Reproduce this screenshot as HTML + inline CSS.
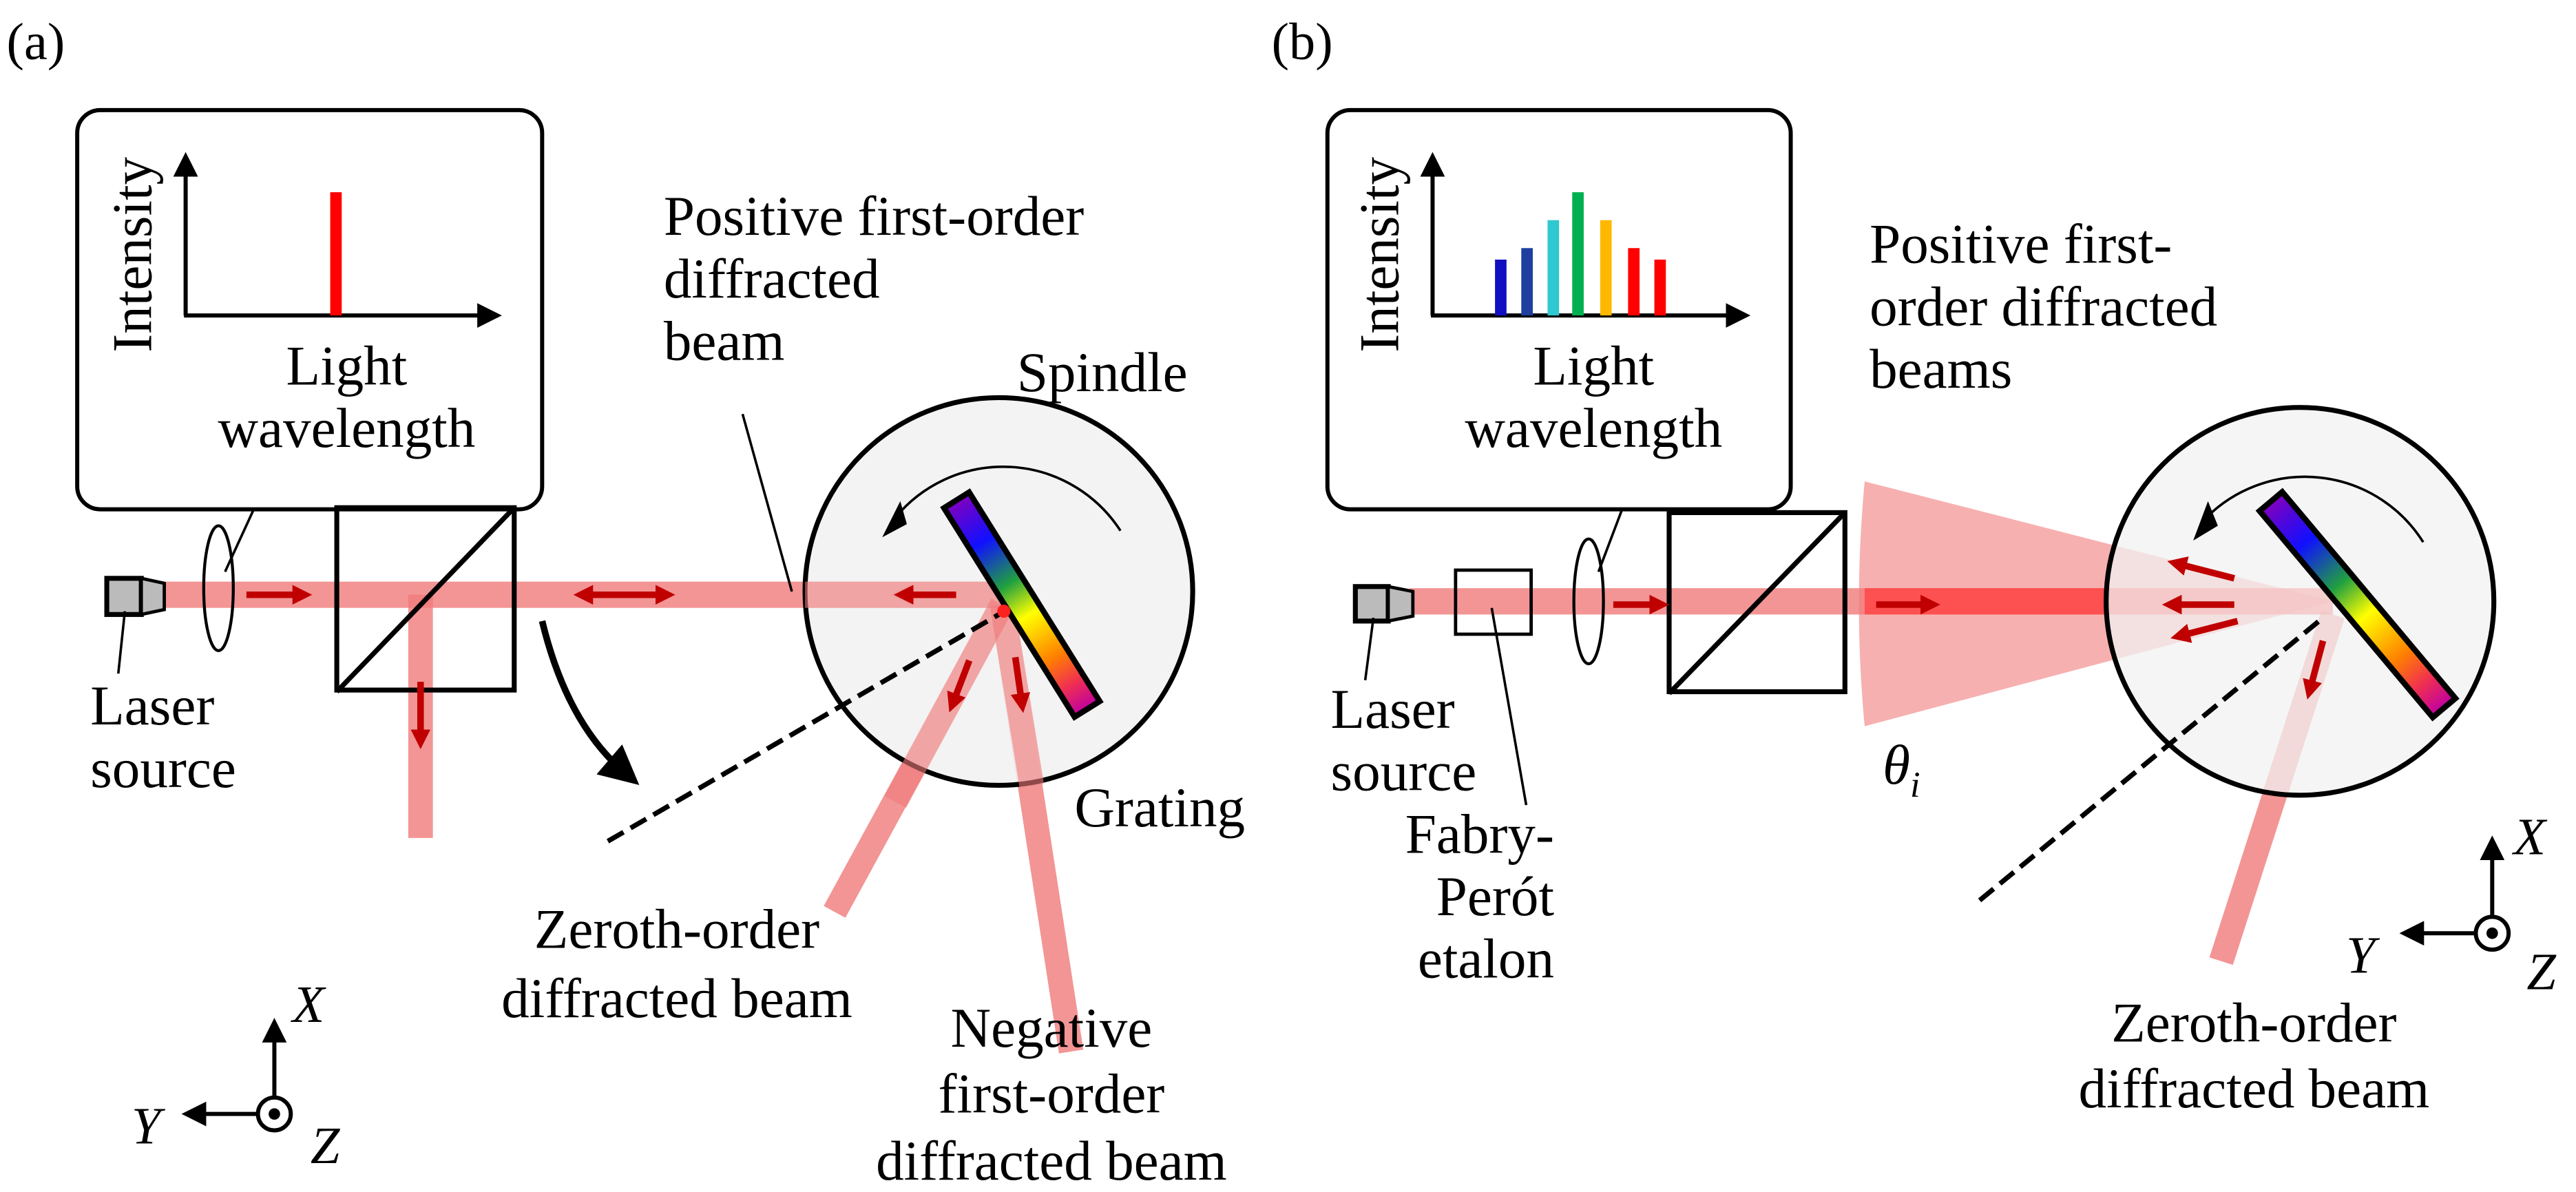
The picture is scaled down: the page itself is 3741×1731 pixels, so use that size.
<!DOCTYPE html>
<html><head><meta charset="utf-8"><style>
html,body{margin:0;padding:0;background:#fff;}
svg{display:block;}
</style></head><body>
<svg width="3741" height="1731" viewBox="0 0 1568 725.5" preserveAspectRatio="none" xmlns="http://www.w3.org/2000/svg" style="font-family:'Liberation Serif','Times New Roman',Times,'DejaVu Serif',serif">
<defs>
<linearGradient id="rb" x1="0" y1="0" x2="1" y2="0">
<stop offset="0" stop-color="#8000c0"/><stop offset="0.2" stop-color="#1010ff"/><stop offset="0.4" stop-color="#20a040"/><stop offset="0.55" stop-color="#ffff00"/><stop offset="0.75" stop-color="#ff8000"/><stop offset="0.88" stop-color="#f03050"/><stop offset="1" stop-color="#c000a0"/>
</linearGradient>
<marker id="ah" markerWidth="6" markerHeight="6" refX="3" refY="3" orient="auto" markerUnits="strokeWidth"><path d="M0,0 L6,3 L0,6 z" fill="#000"/></marker>
<marker id="rh" markerWidth="3" markerHeight="3" refX="1.5" refY="1.5" orient="auto" markerUnits="strokeWidth"><path d="M0,0 L3,1.5 L0,3 z" fill="#c00000"/></marker>
<marker id="rt" markerWidth="3" markerHeight="3" refX="1.5" refY="1.5" orient="auto-start-reverse" markerUnits="strokeWidth"><path d="M0,0 L3,1.5 L0,3 z" fill="#c00000"/></marker>
</defs>

<rect x="47" y="67" width="283" height="243" rx="14" fill="#fff" stroke="#000" stroke-width="2.5"/>
<line x1="113" y1="192" x2="113" y2="100" stroke="#000" stroke-width="2.5" marker-end="url(#ah)"/>
<line x1="112" y1="192" x2="298" y2="192" stroke="#000" stroke-width="2.5" marker-end="url(#ah)"/>
<rect x="201" y="117" width="7" height="75" fill="#ff0000"/>
<line x1="154" y1="311" x2="137" y2="348" stroke="#000" stroke-width="1.5"/>

<g stroke="#f07a7a" stroke-opacity="0.8" fill="none">
<line x1="100" y1="362" x2="610" y2="362" stroke-width="16"/>
<line x1="256" y1="362" x2="256" y2="510" stroke-width="15"/>
<line x1="610" y1="368" x2="508" y2="555" stroke-width="15"/>
<line x1="610" y1="368" x2="652" y2="640" stroke-width="15"/>
</g>
<rect x="65" y="352" width="21" height="22" fill="#bbb" stroke="#000" stroke-width="3"/>
<path d="M86,352 L100,355 L100,371 L86,374 z" fill="#bbb" stroke="#000" stroke-width="2"/>
<line x1="76" y1="372" x2="72" y2="410" stroke="#000" stroke-width="1.5"/>
<ellipse cx="133" cy="358" rx="9" ry="38" fill="none" stroke="#000" stroke-width="1.8"/>
<rect x="205" y="309" width="108" height="111" fill="none" stroke="#000" stroke-width="3"/>
<line x1="205" y1="421" x2="313" y2="309" stroke="#000" stroke-width="3"/>
<g stroke="#c00000" stroke-width="4" fill="none">
<line x1="150" y1="362" x2="184" y2="362" marker-end="url(#rh)"/>
<line x1="256" y1="415" x2="256" y2="450" marker-end="url(#rh)"/>
<line x1="355" y1="362" x2="405" y2="362" marker-start="url(#rt)" marker-end="url(#rh)"/>
<line x1="580" y1="362" x2="548" y2="362" marker-end="url(#rh)"/>
</g>
<path d="M330,378 Q345,440 380,470" stroke="#000" stroke-width="4" fill="none" marker-end="url(#ah)"/>
<circle cx="608" cy="360" r="118" fill="#f1f1f1" fill-opacity="0.85" stroke="#000" stroke-width="3"/>
<g stroke="#f07a7a" stroke-opacity="0.6" fill="none">
<line x1="490" y1="362" x2="610" y2="362" stroke-width="16"/>
<line x1="610" y1="368" x2="545" y2="488" stroke-width="15"/>
<line x1="610" y1="368" x2="628" y2="478" stroke-width="15"/>
</g>
<line x1="370" y1="512" x2="608" y2="374" stroke="#000" stroke-width="3" stroke-dasharray="11,5"/>
<path d="M682,323 A85,85 0 0 0 545,315" stroke="#000" stroke-width="1.5" fill="none"/>
<path d="M537,327 L548,305 L552,319 z" fill="#000"/>
<g stroke="#c00000" stroke-width="4" fill="none">
<line x1="590" y1="402" x2="580" y2="428" marker-end="url(#rh)"/>
<line x1="618" y1="400" x2="622" y2="428" marker-end="url(#rh)"/>
<line x1="582" y1="362" x2="550" y2="362" marker-end="url(#rh)"/>
</g>
<g transform="translate(622,368) rotate(58)">
<rect x="-75" y="-9" width="150" height="18" fill="url(#rb)" stroke="#000" stroke-width="3.5"/>
</g>
<circle cx="611" cy="372" r="4" fill="#ff2020"/>
<line x1="452" y1="252" x2="482" y2="360" stroke="#000" stroke-width="1.5"/>
<line x1="167" y1="668" x2="167" y2="627" stroke="#000" stroke-width="2.5" marker-end="url(#ah)"/>
<line x1="157" y1="678" x2="118" y2="678" stroke="#000" stroke-width="2.5" marker-end="url(#ah)"/>
<circle cx="167" cy="678" r="10" fill="#fff" stroke="#000" stroke-width="2.5"/>
<circle cx="167" cy="678" r="3.5" fill="#000"/>

<rect x="808" y="67" width="282" height="243" rx="14" fill="#fff" stroke="#000" stroke-width="2.5"/>
<line x1="872" y1="192" x2="872" y2="100" stroke="#000" stroke-width="2.5" marker-end="url(#ah)"/>
<line x1="871" y1="192" x2="1058" y2="192" stroke="#000" stroke-width="2.5" marker-end="url(#ah)"/>
<rect x="910" y="158" width="7" height="34" fill="#1010c0"/>
<rect x="926" y="151" width="7" height="41" fill="#1f3fa0"/>
<rect x="942" y="134" width="7" height="58" fill="#30c8d0"/>
<rect x="957" y="117" width="7" height="75" fill="#00b050"/>
<rect x="974" y="134" width="7" height="58" fill="#ffb800"/>
<rect x="991" y="151" width="7" height="41" fill="#ff0000"/>
<rect x="1007" y="158" width="7" height="34" fill="#ff0000"/>
<line x1="987" y1="311" x2="973" y2="348" stroke="#000" stroke-width="1.5"/>

<path d="M1420,366 L1135,293 Q1128,368 1135,442 z" fill="#f07070" fill-opacity="0.55"/>
<g stroke="#f07a7a" stroke-opacity="0.8" fill="none">
<line x1="858" y1="366" x2="1135" y2="366" stroke-width="16"/>
<line x1="1420" y1="374" x2="1352" y2="585" stroke-width="15"/>
</g>
<line x1="1135" y1="366" x2="1420" y2="366" stroke="#ff3030" stroke-opacity="0.75" stroke-width="16"/>
<rect x="825" y="357" width="20" height="21" fill="#bbb" stroke="#000" stroke-width="3"/>
<path d="M845,357 L860,360 L860,375 L845,378 z" fill="#bbb" stroke="#000" stroke-width="2"/>
<line x1="836" y1="376" x2="831" y2="414" stroke="#000" stroke-width="1.5"/>
<rect x="886" y="347" width="46" height="39" fill="none" stroke="#000" stroke-width="2"/>
<line x1="908" y1="370" x2="929" y2="490" stroke="#000" stroke-width="1.5"/>
<ellipse cx="967" cy="366" rx="9" ry="38" fill="none" stroke="#000" stroke-width="1.8"/>
<rect x="1016" y="312" width="107" height="109" fill="none" stroke="#000" stroke-width="3"/>
<line x1="1016" y1="422" x2="1123" y2="312" stroke="#000" stroke-width="3"/>
<g stroke="#c00000" stroke-width="4" fill="none">
<line x1="982" y1="368" x2="1010" y2="368" marker-end="url(#rh)"/>
<line x1="1142" y1="368" x2="1175" y2="368" marker-end="url(#rh)"/>
</g>
<circle cx="1400" cy="366" r="118" fill="#f1f1f1" fill-opacity="0.75" stroke="#000" stroke-width="3"/>
<line x1="1205" y1="548" x2="1414" y2="376" stroke="#000" stroke-width="3" stroke-dasharray="11,5"/>
<path d="M1475,330 A85,85 0 0 0 1343,315" stroke="#000" stroke-width="1.5" fill="none"/>
<path d="M1335,329 L1344,305 L1350,320 z" fill="#000"/>
<g stroke="#c00000" stroke-width="4" fill="none">
<line x1="1360" y1="352" x2="1325" y2="343" marker-end="url(#rh)"/>
<line x1="1360" y1="368" x2="1322" y2="368" marker-end="url(#rh)"/>
<line x1="1362" y1="378" x2="1327" y2="387" marker-end="url(#rh)"/>
<line x1="1414" y1="390" x2="1406" y2="420" marker-end="url(#rh)"/>
</g>
<g transform="translate(1435,368) rotate(50)">
<rect x="-82" y="-9" width="164" height="18" fill="url(#rb)" stroke="#000" stroke-width="3.5"/>
</g>
<line x1="1517" y1="558" x2="1517" y2="516" stroke="#000" stroke-width="2.5" marker-end="url(#ah)"/>
<line x1="1507" y1="568" x2="1468" y2="568" stroke="#000" stroke-width="2.5" marker-end="url(#ah)"/>
<circle cx="1517" cy="568" r="10" fill="#fff" stroke="#000" stroke-width="2.5"/>
<circle cx="1517" cy="568" r="3.5" fill="#000"/>

<g font-family="Liberation Serif, Times New Roman, serif" style="font-family:'Liberation Serif','Times New Roman',serif" fill="#000">
<text x="4" y="36" font-size="32">(a)</text>
<text transform="translate(92,155) rotate(-90)" font-size="34" text-anchor="middle">Intensity</text>
<text x="211" y="234" font-size="34" text-anchor="middle">Light</text>
<text x="211" y="272" font-size="34" text-anchor="middle">wavelength</text>
<text x="404" y="143" font-size="34">Positive first-order</text>
<text x="404" y="181" font-size="34">diffracted</text>
<text x="404" y="219" font-size="34">beam</text>
<text x="619" y="238" font-size="34">Spindle</text>
<text x="654" y="503" font-size="34">Grating</text>
<text x="55" y="441" font-size="34">Laser</text>
<text x="55" y="479" font-size="34">source</text>
<text x="412" y="577" font-size="34" text-anchor="middle">Zeroth-order</text>
<text x="412" y="619" font-size="34" text-anchor="middle">diffracted beam</text>
<text x="640" y="637" font-size="34" text-anchor="middle">Negative</text>
<text x="640" y="677" font-size="34" text-anchor="middle">first-order</text>
<text x="640" y="718" font-size="34" text-anchor="middle">diffracted beam</text>
<text x="178" y="622" font-size="32" font-style="italic">X</text>
<text x="80" y="696" font-size="32" font-style="italic">Y</text>
<text x="189" y="708" font-size="32" font-style="italic">Z</text>
<text x="774" y="36" font-size="32">(b)</text>
<text transform="translate(851,155) rotate(-90)" font-size="34" text-anchor="middle">Intensity</text>
<text x="970" y="234" font-size="34" text-anchor="middle">Light</text>
<text x="970" y="272" font-size="34" text-anchor="middle">wavelength</text>
<text x="1138" y="160" font-size="34">Positive first-</text>
<text x="1138" y="198" font-size="34">order diffracted</text>
<text x="1138" y="236" font-size="34">beams</text>
<text x="1146" y="477" font-size="34" font-style="italic">θ<tspan font-size="22" dy="8">i</tspan></text>
<text x="810" y="443" font-size="34">Laser</text>
<text x="810" y="481" font-size="34">source</text>
<text x="946" y="519" font-size="34" text-anchor="end">Fabry-</text>
<text x="946" y="557" font-size="34" text-anchor="end">Perót</text>
<text x="946" y="595" font-size="34" text-anchor="end">etalon</text>
<text x="1372" y="634" font-size="34" text-anchor="middle">Zeroth-order</text>
<text x="1372" y="674" font-size="34" text-anchor="middle">diffracted beam</text>
<text x="1530" y="520" font-size="32" font-style="italic">X</text>
<text x="1428" y="592" font-size="32" font-style="italic">Y</text>
<text x="1538" y="602" font-size="32" font-style="italic">Z</text>
</g>
</svg>
</body></html>
